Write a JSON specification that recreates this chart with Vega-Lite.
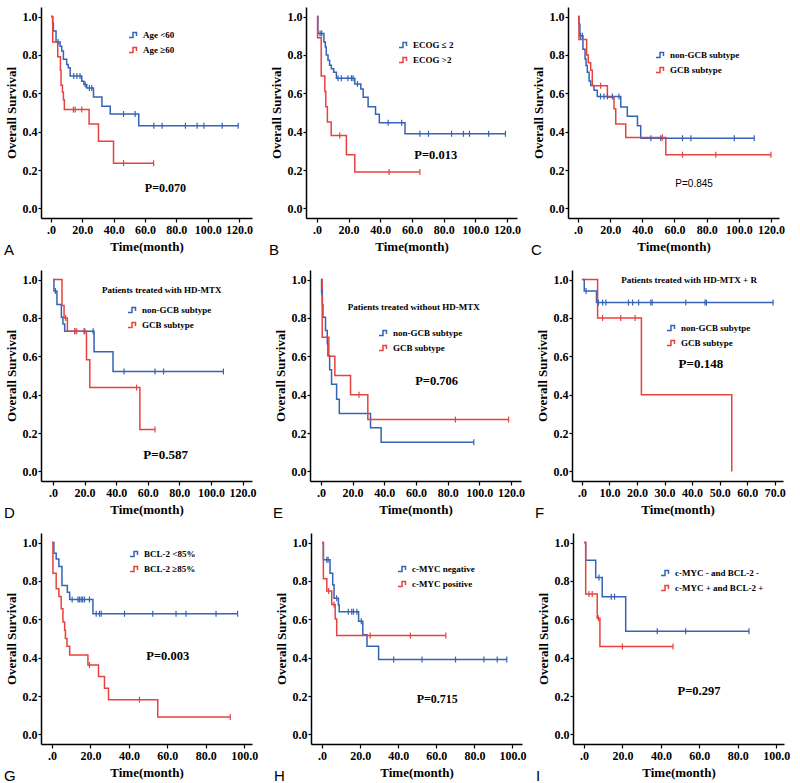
{
"$schema": "https://vega.github.io/schema/vega-lite/v6.json",
"background": "white",
"padding": {"left": 4, "top": 7, "right": 0, "bottom": 0},
"config": {
 "view": {"stroke": null},
 "axis": {"grid": false, "domainColor": "#000", "domainWidth": 1.5, "tickColor": "#000", "tickWidth": 1.2, "labelFont": "Liberation Serif", "labelFontWeight": "bold", "labelFontSize": 12, "labelColor": "#000", "titleFont": "Liberation Serif", "titleFontWeight": "bold", "titleFontSize": 13, "titleColor": "#000", "labelOverlap": false, "labelFlush": false},
 "axisX": {"tickSize": 4, "labelPadding": 2, "titlePadding": 5},
 "axisY": {"tickSize": 3, "labelPadding": 1, "titlePadding": 4},
 "legend": {"orient": "none", "title": null, "symbolType": "M-1,0.5H-0.2V-0.5H0.5V0.2", "symbolSize": 100, "symbolStrokeWidth": 1.5, "labelFont": "Liberation Serif", "labelFontWeight": "bold", "labelFontSize": 9, "labelColor": "#000", "rowPadding": 3, "labelOffset": 3, "labelLimit": 300},
 "text": {"color": "#000"}
},
"datasets": {
 "A": [
  {"g":"Age <60","k":"s","t":0,"s":1},{"g":"Age <60","k":"s","t":1,"s":0.965},{"g":"Age <60","k":"s","t":1.5,"s":0.925},{"g":"Age <60","k":"s","t":3.2,"s":0.867},{"g":"Age <60","k":"s","t":5.8,"s":0.846},{"g":"Age <60","k":"s","t":6.8,"s":0.82},{"g":"Age <60","k":"s","t":7.9,"s":0.777},{"g":"Age <60","k":"s","t":10,"s":0.75},{"g":"Age <60","k":"s","t":11,"s":0.733},{"g":"Age <60","k":"s","t":12.2,"s":0.69},{"g":"Age <60","k":"s","t":19.6,"s":0.663},{"g":"Age <60","k":"s","t":21,"s":0.646},{"g":"Age <60","k":"s","t":22.8,"s":0.628},{"g":"Age <60","k":"s","t":27.1,"s":0.581},{"g":"Age <60","k":"s","t":32.5,"s":0.532},{"g":"Age <60","k":"s","t":37.8,"s":0.492},{"g":"Age <60","k":"s","t":56,"s":0.431},{"g":"Age <60","k":"s","t":119.5,"s":0.431},
  {"g":"Age <60","k":"c","t":4.5,"s":0.867},{"g":"Age <60","k":"c","t":14.5,"s":0.69},{"g":"Age <60","k":"c","t":16.5,"s":0.69},{"g":"Age <60","k":"c","t":18.5,"s":0.69},{"g":"Age <60","k":"c","t":21.8,"s":0.646},{"g":"Age <60","k":"c","t":24.5,"s":0.628},{"g":"Age <60","k":"c","t":26,"s":0.628},{"g":"Age <60","k":"c","t":46.3,"s":0.492},{"g":"Age <60","k":"c","t":53.7,"s":0.492},{"g":"Age <60","k":"c","t":65.6,"s":0.431},{"g":"Age <60","k":"c","t":70.9,"s":0.431},{"g":"Age <60","k":"c","t":85.8,"s":0.431},{"g":"Age <60","k":"c","t":93.3,"s":0.431},{"g":"Age <60","k":"c","t":97.6,"s":0.431},{"g":"Age <60","k":"c","t":109.3,"s":0.431},{"g":"Age <60","k":"c","t":119.5,"s":0.431},
  {"g":"Age ≥60","k":"s","t":0,"s":1},{"g":"Age ≥60","k":"s","t":1.1,"s":0.867},{"g":"Age ≥60","k":"s","t":4.3,"s":0.79},{"g":"Age ≥60","k":"s","t":6,"s":0.72},{"g":"Age ≥60","k":"s","t":6.4,"s":0.642},{"g":"Age ≥60","k":"s","t":7.3,"s":0.605},{"g":"Age ≥60","k":"s","t":7.9,"s":0.567},{"g":"Age ≥60","k":"s","t":8.5,"s":0.515},{"g":"Age ≥60","k":"s","t":24.3,"s":0.44},{"g":"Age ≥60","k":"s","t":30.3,"s":0.35},{"g":"Age ≥60","k":"s","t":39.9,"s":0.236},{"g":"Age ≥60","k":"s","t":65.5,"s":0.236},
  {"g":"Age ≥60","k":"c","t":14.3,"s":0.515},{"g":"Age ≥60","k":"c","t":15.4,"s":0.515},{"g":"Age ≥60","k":"c","t":19.6,"s":0.515},{"g":"Age ≥60","k":"c","t":46.3,"s":0.236},{"g":"Age ≥60","k":"c","t":65.5,"s":0.236}
 ],
 "B": [
  {"g":"ECOG ≤ 2","k":"s","t":0,"s":1},{"g":"ECOG ≤ 2","k":"s","t":0.6,"s":0.912},{"g":"ECOG ≤ 2","k":"s","t":4.4,"s":0.868},{"g":"ECOG ≤ 2","k":"s","t":5.3,"s":0.842},{"g":"ECOG ≤ 2","k":"s","t":5.9,"s":0.8},{"g":"ECOG ≤ 2","k":"s","t":7,"s":0.772},{"g":"ECOG ≤ 2","k":"s","t":8,"s":0.746},{"g":"ECOG ≤ 2","k":"s","t":9.1,"s":0.728},{"g":"ECOG ≤ 2","k":"s","t":10.6,"s":0.71},{"g":"ECOG ≤ 2","k":"s","t":12.3,"s":0.679},{"g":"ECOG ≤ 2","k":"s","t":23.9,"s":0.649},{"g":"ECOG ≤ 2","k":"s","t":27.7,"s":0.623},{"g":"ECOG ≤ 2","k":"s","t":29.2,"s":0.579},{"g":"ECOG ≤ 2","k":"s","t":32.3,"s":0.53},{"g":"ECOG ≤ 2","k":"s","t":37,"s":0.491},{"g":"ECOG ≤ 2","k":"s","t":39.4,"s":0.447},{"g":"ECOG ≤ 2","k":"s","t":55.6,"s":0.389},{"g":"ECOG ≤ 2","k":"s","t":119,"s":0.389},
  {"g":"ECOG ≤ 2","k":"c","t":2,"s":0.912},{"g":"ECOG ≤ 2","k":"c","t":3,"s":0.912},{"g":"ECOG ≤ 2","k":"c","t":13.3,"s":0.679},{"g":"ECOG ≤ 2","k":"c","t":15.4,"s":0.679},{"g":"ECOG ≤ 2","k":"c","t":19.6,"s":0.679},{"g":"ECOG ≤ 2","k":"c","t":21.8,"s":0.679},{"g":"ECOG ≤ 2","k":"c","t":22.8,"s":0.679},{"g":"ECOG ≤ 2","k":"c","t":25.6,"s":0.649},{"g":"ECOG ≤ 2","k":"c","t":45,"s":0.447},{"g":"ECOG ≤ 2","k":"c","t":53.5,"s":0.447},{"g":"ECOG ≤ 2","k":"c","t":65,"s":0.389},{"g":"ECOG ≤ 2","k":"c","t":70.4,"s":0.389},{"g":"ECOG ≤ 2","k":"c","t":85,"s":0.389},{"g":"ECOG ≤ 2","k":"c","t":92.5,"s":0.389},{"g":"ECOG ≤ 2","k":"c","t":96.3,"s":0.389},{"g":"ECOG ≤ 2","k":"c","t":108.4,"s":0.389},{"g":"ECOG ≤ 2","k":"c","t":119,"s":0.389},
  {"g":"ECOG >2","k":"s","t":0,"s":1},{"g":"ECOG >2","k":"s","t":0.4,"s":0.89},{"g":"ECOG >2","k":"s","t":2.7,"s":0.69},{"g":"ECOG >2","k":"s","t":5,"s":0.61},{"g":"ECOG >2","k":"s","t":5.6,"s":0.53},{"g":"ECOG >2","k":"s","t":6.6,"s":0.45},{"g":"ECOG >2","k":"s","t":9,"s":0.38},{"g":"ECOG >2","k":"s","t":18.6,"s":0.28},{"g":"ECOG >2","k":"s","t":23.9,"s":0.19},{"g":"ECOG >2","k":"s","t":65,"s":0.19},
  {"g":"ECOG >2","k":"c","t":14.4,"s":0.38},{"g":"ECOG >2","k":"c","t":45.6,"s":0.19},{"g":"ECOG >2","k":"c","t":65,"s":0.19}
 ],
 "C": [
  {"g":"non-GCB subtype","k":"s","t":0,"s":1},{"g":"non-GCB subtype","k":"s","t":0.6,"s":0.96},{"g":"non-GCB subtype","k":"s","t":1.2,"s":0.9},{"g":"non-GCB subtype","k":"s","t":3.1,"s":0.83},{"g":"non-GCB subtype","k":"s","t":4.4,"s":0.779},{"g":"non-GCB subtype","k":"s","t":5,"s":0.745},{"g":"non-GCB subtype","k":"s","t":5.8,"s":0.71},{"g":"non-GCB subtype","k":"s","t":6.9,"s":0.664},{"g":"non-GCB subtype","k":"s","t":7.9,"s":0.641},{"g":"non-GCB subtype","k":"s","t":10,"s":0.616},{"g":"non-GCB subtype","k":"s","t":12,"s":0.584},{"g":"non-GCB subtype","k":"s","t":26.6,"s":0.529},{"g":"non-GCB subtype","k":"s","t":30.7,"s":0.481},{"g":"non-GCB subtype","k":"s","t":37,"s":0.431},{"g":"non-GCB subtype","k":"s","t":39,"s":0.366},{"g":"non-GCB subtype","k":"s","t":109.6,"s":0.366},
  {"g":"non-GCB subtype","k":"c","t":1.6,"s":0.9},{"g":"non-GCB subtype","k":"c","t":2.7,"s":0.9},{"g":"non-GCB subtype","k":"c","t":14,"s":0.584},{"g":"non-GCB subtype","k":"c","t":16.2,"s":0.584},{"g":"non-GCB subtype","k":"c","t":18.3,"s":0.584},{"g":"non-GCB subtype","k":"c","t":21.4,"s":0.584},{"g":"non-GCB subtype","k":"c","t":25.5,"s":0.584},{"g":"non-GCB subtype","k":"c","t":45.3,"s":0.366},{"g":"non-GCB subtype","k":"c","t":51.5,"s":0.366},{"g":"non-GCB subtype","k":"c","t":65,"s":0.366},{"g":"non-GCB subtype","k":"c","t":70.2,"s":0.366},{"g":"non-GCB subtype","k":"c","t":97.2,"s":0.366},{"g":"non-GCB subtype","k":"c","t":109.6,"s":0.366},
  {"g":"GCB subtype","k":"s","t":0,"s":1},{"g":"GCB subtype","k":"s","t":0.6,"s":0.88},{"g":"GCB subtype","k":"s","t":5.4,"s":0.8},{"g":"GCB subtype","k":"s","t":6.4,"s":0.76},{"g":"GCB subtype","k":"s","t":7.9,"s":0.72},{"g":"GCB subtype","k":"s","t":8.9,"s":0.64},{"g":"GCB subtype","k":"s","t":18.3,"s":0.58},{"g":"GCB subtype","k":"s","t":22.4,"s":0.52},{"g":"GCB subtype","k":"s","t":23.5,"s":0.44},{"g":"GCB subtype","k":"s","t":29.7,"s":0.37},{"g":"GCB subtype","k":"s","t":54.6,"s":0.28},{"g":"GCB subtype","k":"s","t":120,"s":0.28},
  {"g":"GCB subtype","k":"c","t":14.1,"s":0.64},{"g":"GCB subtype","k":"c","t":52.5,"s":0.37},{"g":"GCB subtype","k":"c","t":65,"s":0.28},{"g":"GCB subtype","k":"c","t":85.7,"s":0.28},{"g":"GCB subtype","k":"c","t":120,"s":0.28}
 ],
 "D": [
  {"g":"non-GCB subtype","k":"s","t":0,"s":1},{"g":"non-GCB subtype","k":"s","t":0.6,"s":0.94},{"g":"non-GCB subtype","k":"s","t":2.5,"s":0.87},{"g":"non-GCB subtype","k":"s","t":5.3,"s":0.804},{"g":"non-GCB subtype","k":"s","t":6.3,"s":0.769},{"g":"non-GCB subtype","k":"s","t":7.4,"s":0.731},{"g":"non-GCB subtype","k":"s","t":26,"s":0.624},{"g":"non-GCB subtype","k":"s","t":38,"s":0.521},{"g":"non-GCB subtype","k":"s","t":107.9,"s":0.521},
  {"g":"non-GCB subtype","k":"c","t":1.5,"s":0.94},{"g":"non-GCB subtype","k":"c","t":13.8,"s":0.731},{"g":"non-GCB subtype","k":"c","t":20.1,"s":0.731},{"g":"non-GCB subtype","k":"c","t":25.4,"s":0.731},{"g":"non-GCB subtype","k":"c","t":45,"s":0.521},{"g":"non-GCB subtype","k":"c","t":64.6,"s":0.521},{"g":"non-GCB subtype","k":"c","t":70,"s":0.521},{"g":"non-GCB subtype","k":"c","t":107.9,"s":0.521},
  {"g":"GCB subtype","k":"s","t":0,"s":1},{"g":"GCB subtype","k":"s","t":5.7,"s":0.865},{"g":"GCB subtype","k":"s","t":7,"s":0.8},{"g":"GCB subtype","k":"s","t":9.1,"s":0.731},{"g":"GCB subtype","k":"s","t":21.2,"s":0.582},{"g":"GCB subtype","k":"s","t":23.3,"s":0.437},{"g":"GCB subtype","k":"s","t":55,"s":0.219},{"g":"GCB subtype","k":"s","t":64.6,"s":0.219},
  {"g":"GCB subtype","k":"c","t":8,"s":0.8},{"g":"GCB subtype","k":"c","t":13.8,"s":0.731},{"g":"GCB subtype","k":"c","t":15,"s":0.731},{"g":"GCB subtype","k":"c","t":19.6,"s":0.731},{"g":"GCB subtype","k":"c","t":52.9,"s":0.437},{"g":"GCB subtype","k":"c","t":64.6,"s":0.219}
 ],
 "E": [
  {"g":"non-GCB subtype","k":"s","t":0,"s":1},{"g":"non-GCB subtype","k":"s","t":0.4,"s":0.935},{"g":"non-GCB subtype","k":"s","t":0.9,"s":0.87},{"g":"non-GCB subtype","k":"s","t":1.3,"s":0.804},{"g":"non-GCB subtype","k":"s","t":2.9,"s":0.734},{"g":"non-GCB subtype","k":"s","t":4,"s":0.665},{"g":"non-GCB subtype","k":"s","t":4.4,"s":0.603},{"g":"non-GCB subtype","k":"s","t":5.5,"s":0.53},{"g":"non-GCB subtype","k":"s","t":6.7,"s":0.455},{"g":"non-GCB subtype","k":"s","t":9.9,"s":0.376},{"g":"non-GCB subtype","k":"s","t":11.6,"s":0.302},{"g":"non-GCB subtype","k":"s","t":31.3,"s":0.227},{"g":"non-GCB subtype","k":"s","t":38,"s":0.152},{"g":"non-GCB subtype","k":"s","t":96.5,"s":0.152},
  {"g":"non-GCB subtype","k":"c","t":0.8,"s":0.935},{"g":"non-GCB subtype","k":"c","t":96.5,"s":0.152},
  {"g":"GCB subtype","k":"s","t":0,"s":1},{"g":"GCB subtype","k":"s","t":0.8,"s":0.7},{"g":"GCB subtype","k":"s","t":5,"s":0.6},{"g":"GCB subtype","k":"s","t":8.8,"s":0.5},{"g":"GCB subtype","k":"s","t":18.7,"s":0.4},{"g":"GCB subtype","k":"s","t":29.6,"s":0.27},{"g":"GCB subtype","k":"s","t":118.5,"s":0.27},
  {"g":"GCB subtype","k":"c","t":24,"s":0.4},{"g":"GCB subtype","k":"c","t":84.9,"s":0.27},{"g":"GCB subtype","k":"c","t":118.5,"s":0.27}
 ],
 "F": [
  {"g":"non-GCB subytpe","k":"s","t":0,"s":1},{"g":"non-GCB subytpe","k":"s","t":0.85,"s":0.94},{"g":"non-GCB subytpe","k":"s","t":5.3,"s":0.88},{"g":"non-GCB subytpe","k":"s","t":69.4,"s":0.88},
  {"g":"non-GCB subytpe","k":"c","t":1.5,"s":0.94},{"g":"non-GCB subytpe","k":"c","t":6,"s":0.88},{"g":"non-GCB subytpe","k":"c","t":7.5,"s":0.88},{"g":"non-GCB subytpe","k":"c","t":8.7,"s":0.88},{"g":"non-GCB subytpe","k":"c","t":16.9,"s":0.88},{"g":"non-GCB subytpe","k":"c","t":18.4,"s":0.88},{"g":"non-GCB subytpe","k":"c","t":20.6,"s":0.88},{"g":"non-GCB subytpe","k":"c","t":25,"s":0.88},{"g":"non-GCB subytpe","k":"c","t":25.5,"s":0.88},{"g":"non-GCB subytpe","k":"c","t":37.7,"s":0.88},{"g":"non-GCB subytpe","k":"c","t":44.7,"s":0.88},{"g":"non-GCB subytpe","k":"c","t":45.2,"s":0.88},{"g":"non-GCB subytpe","k":"c","t":69.4,"s":0.88},
  {"g":"GCB subtype","k":"s","t":0,"s":1},{"g":"GCB subtype","k":"s","t":5.7,"s":0.8},{"g":"GCB subtype","k":"s","t":21.6,"s":0.4},{"g":"GCB subtype","k":"s","t":54.4,"s":0},
  {"g":"GCB subtype","k":"c","t":7.5,"s":0.8},{"g":"GCB subtype","k":"c","t":14.1,"s":0.8},{"g":"GCB subtype","k":"c","t":19.3,"s":0.8}
 ],
 "G": [
  {"g":"BCL-2 <85%","k":"s","t":0,"s":1},{"g":"BCL-2 <85%","k":"s","t":1,"s":0.945},{"g":"BCL-2 <85%","k":"s","t":2.2,"s":0.914},{"g":"BCL-2 <85%","k":"s","t":3.6,"s":0.876},{"g":"BCL-2 <85%","k":"s","t":5.2,"s":0.776},{"g":"BCL-2 <85%","k":"s","t":8,"s":0.741},{"g":"BCL-2 <85%","k":"s","t":9.2,"s":0.703},{"g":"BCL-2 <85%","k":"s","t":21.3,"s":0.629},{"g":"BCL-2 <85%","k":"s","t":96.5,"s":0.629},
  {"g":"BCL-2 <85%","k":"c","t":10.5,"s":0.703},{"g":"BCL-2 <85%","k":"c","t":13.5,"s":0.703},{"g":"BCL-2 <85%","k":"c","t":14.3,"s":0.703},{"g":"BCL-2 <85%","k":"c","t":15.2,"s":0.703},{"g":"BCL-2 <85%","k":"c","t":16,"s":0.703},{"g":"BCL-2 <85%","k":"c","t":16.9,"s":0.703},{"g":"BCL-2 <85%","k":"c","t":19.5,"s":0.703},{"g":"BCL-2 <85%","k":"c","t":23,"s":0.629},{"g":"BCL-2 <85%","k":"c","t":24.7,"s":0.629},{"g":"BCL-2 <85%","k":"c","t":25.6,"s":0.629},{"g":"BCL-2 <85%","k":"c","t":37.7,"s":0.629},{"g":"BCL-2 <85%","k":"c","t":52.4,"s":0.629},{"g":"BCL-2 <85%","k":"c","t":64.5,"s":0.629},{"g":"BCL-2 <85%","k":"c","t":69.7,"s":0.629},{"g":"BCL-2 <85%","k":"c","t":85.3,"s":0.629},{"g":"BCL-2 <85%","k":"c","t":96.5,"s":0.629},
  {"g":"BCL-2 ≥85%","k":"s","t":0,"s":1},{"g":"BCL-2 ≥85%","k":"s","t":0.5,"s":0.84},{"g":"BCL-2 ≥85%","k":"s","t":2.2,"s":0.759},{"g":"BCL-2 ≥85%","k":"s","t":3.6,"s":0.719},{"g":"BCL-2 ≥85%","k":"s","t":4.8,"s":0.655},{"g":"BCL-2 ≥85%","k":"s","t":5.7,"s":0.586},{"g":"BCL-2 ≥85%","k":"s","t":6.6,"s":0.543},{"g":"BCL-2 ≥85%","k":"s","t":7,"s":0.5},{"g":"BCL-2 ≥85%","k":"s","t":7.8,"s":0.46},{"g":"BCL-2 ≥85%","k":"s","t":9.2,"s":0.414},{"g":"BCL-2 ≥85%","k":"s","t":18.7,"s":0.362},{"g":"BCL-2 ≥85%","k":"s","t":24.2,"s":0.302},{"g":"BCL-2 ≥85%","k":"s","t":27.3,"s":0.241},{"g":"BCL-2 ≥85%","k":"s","t":29.4,"s":0.181},{"g":"BCL-2 ≥85%","k":"s","t":55,"s":0.091},{"g":"BCL-2 ≥85%","k":"s","t":92.7,"s":0.091},
  {"g":"BCL-2 ≥85%","k":"c","t":19.5,"s":0.362},{"g":"BCL-2 ≥85%","k":"c","t":45.5,"s":0.181},{"g":"BCL-2 ≥85%","k":"c","t":92.7,"s":0.091}
 ],
 "H": [
  {"g":"c-MYC negative","k":"s","t":0,"s":1},{"g":"c-MYC negative","k":"s","t":0.7,"s":0.91},{"g":"c-MYC negative","k":"s","t":4.2,"s":0.84},{"g":"c-MYC negative","k":"s","t":5.6,"s":0.78},{"g":"c-MYC negative","k":"s","t":6.3,"s":0.71},{"g":"c-MYC negative","k":"s","t":8.6,"s":0.675},{"g":"c-MYC negative","k":"s","t":9,"s":0.64},{"g":"c-MYC negative","k":"s","t":19.2,"s":0.59},{"g":"c-MYC negative","k":"s","t":21.4,"s":0.52},{"g":"c-MYC negative","k":"s","t":23.6,"s":0.46},{"g":"c-MYC negative","k":"s","t":29.7,"s":0.39},{"g":"c-MYC negative","k":"s","t":97,"s":0.39},
  {"g":"c-MYC negative","k":"c","t":2.5,"s":0.91},{"g":"c-MYC negative","k":"c","t":3.2,"s":0.91},{"g":"c-MYC negative","k":"c","t":7.7,"s":0.71},{"g":"c-MYC negative","k":"c","t":13.8,"s":0.64},{"g":"c-MYC negative","k":"c","t":15.6,"s":0.64},{"g":"c-MYC negative","k":"c","t":16.5,"s":0.64},{"g":"c-MYC negative","k":"c","t":18.3,"s":0.64},{"g":"c-MYC negative","k":"c","t":20.6,"s":0.59},{"g":"c-MYC negative","k":"c","t":37.6,"s":0.39},{"g":"c-MYC negative","k":"c","t":52.5,"s":0.39},{"g":"c-MYC negative","k":"c","t":70.1,"s":0.39},{"g":"c-MYC negative","k":"c","t":85,"s":0.39},{"g":"c-MYC negative","k":"c","t":92,"s":0.39},{"g":"c-MYC negative","k":"c","t":97,"s":0.39},
  {"g":"c-MYC positive","k":"s","t":0,"s":1},{"g":"c-MYC positive","k":"s","t":0.7,"s":0.812},{"g":"c-MYC positive","k":"s","t":2.5,"s":0.747},{"g":"c-MYC positive","k":"s","t":5.1,"s":0.677},{"g":"c-MYC positive","k":"s","t":6.9,"s":0.602},{"g":"c-MYC positive","k":"s","t":7.7,"s":0.515},{"g":"c-MYC positive","k":"s","t":65,"s":0.515},
  {"g":"c-MYC positive","k":"c","t":3.5,"s":0.747},{"g":"c-MYC positive","k":"c","t":6.3,"s":0.677},{"g":"c-MYC positive","k":"c","t":25.3,"s":0.515},{"g":"c-MYC positive","k":"c","t":46.4,"s":0.515},{"g":"c-MYC positive","k":"c","t":65,"s":0.515}
 ],
 "I": [
  {"g":"c-MYC - and BCL-2 -","k":"s","t":0,"s":1},{"g":"c-MYC - and BCL-2 -","k":"s","t":0.9,"s":0.908},{"g":"c-MYC - and BCL-2 -","k":"s","t":6.1,"s":0.818},{"g":"c-MYC - and BCL-2 -","k":"s","t":9.5,"s":0.718},{"g":"c-MYC - and BCL-2 -","k":"s","t":21.7,"s":0.538},{"g":"c-MYC - and BCL-2 -","k":"s","t":85.8,"s":0.538},
  {"g":"c-MYC - and BCL-2 -","k":"c","t":7.8,"s":0.818},{"g":"c-MYC - and BCL-2 -","k":"c","t":14.2,"s":0.718},{"g":"c-MYC - and BCL-2 -","k":"c","t":15.9,"s":0.718},{"g":"c-MYC - and BCL-2 -","k":"c","t":38.1,"s":0.538},{"g":"c-MYC - and BCL-2 -","k":"c","t":52.9,"s":0.538},{"g":"c-MYC - and BCL-2 -","k":"c","t":85.8,"s":0.538},
  {"g":"c-MYC + and BCL-2 +","k":"s","t":0,"s":1},{"g":"c-MYC + and BCL-2 +","k":"s","t":0.9,"s":0.732},{"g":"c-MYC + and BCL-2 +","k":"s","t":6.9,"s":0.606},{"g":"c-MYC + and BCL-2 +","k":"s","t":8.3,"s":0.458},{"g":"c-MYC + and BCL-2 +","k":"s","t":46.3,"s":0.458},
  {"g":"c-MYC + and BCL-2 +","k":"c","t":2.6,"s":0.732},{"g":"c-MYC + and BCL-2 +","k":"c","t":4.3,"s":0.732},{"g":"c-MYC + and BCL-2 +","k":"c","t":7.5,"s":0.606},{"g":"c-MYC + and BCL-2 +","k":"c","t":20,"s":0.458},{"g":"c-MYC + and BCL-2 +","k":"c","t":46.3,"s":0.458}
 ]
},
"spacing": 12,
"resolve": {"scale": {"color": "independent"}, "legend": {"color": "independent"}},
"vconcat": [
 {"spacing": 16, "resolve": {"scale": {"color": "independent"}, "legend": {"color": "independent"}}, "hconcat": [
  {"width": 211, "height": 211, "title": {"text": "A", "orient": "bottom", "anchor": "start", "frame": "group", "dx": -37, "dy": -14, "font": "Liberation Sans", "fontSize": 15, "fontWeight": "normal", "color": "#000"},
   "data": {"name": "A"},
   "layer": [
    {"transform": [{"filter": "datum.k == 's'"}], "mark": {"type": "line", "interpolate": "step-after", "strokeWidth": 1.5},
     "encoding": {"x": {"field": "t", "type": "quantitative", "scale": {"domain": [-6.4, 128.3], "nice": false, "zero": false}, "axis": {"title": "Time(month)", "labelOverlap": false, "values": [0,20,40,60,80,100,120], "labelExpr": "datum.value == 0 ? '.0' : format(datum.value, '.1f')"}},
                  "y": {"field": "s", "type": "quantitative", "scale": {"domain": [-0.05, 1.05], "nice": false, "zero": false}, "axis": {"title": "Overall Survival", "labelOverlap": false, "values": [0,0.2,0.4,0.6,0.8,1], "format": ".1f"}},
                  "color": {"field": "g", "type": "nominal", "scale": {"domain": ["Age <60", "Age ≥60"], "range": ["#3563b5", "#e8423f"]}, "legend": {"legendX": 87, "legendY": 22, "symbolType": "M-1,0.5H-0.2V-0.5H0.5V0.2", "encode": {"symbols": {"update": {"fill": {"value": "transparent"}}}}}}}},
    {"transform": [{"filter": "datum.k == 'c'"}], "mark": {"type": "point", "shape": "M0,-1V1", "filled": false, "size": 36, "strokeWidth": 1.2, "opacity": 1},
     "encoding": {"x": {"field": "t", "type": "quantitative", "axis": {"title": "Time(month)", "labelOverlap": false, "values": [0,20,40,60,80,100,120], "labelExpr": "datum.value == 0 ? '.0' : format(datum.value, '.1f')"}}, "y": {"field": "s", "type": "quantitative", "axis": {"title": "Overall Survival", "labelOverlap": false, "values": [0,0.2,0.4,0.6,0.8,1], "format": ".1f"}}, "color": {"field": "g", "type": "nominal", "legend": null}}},
    {"data": {"values": [{"label": "P=0.070"}]}, "mark": {"type": "text", "font": "Liberation Serif", "fontWeight": "bold", "fontSize": 12},
     "encoding": {"x": {"datum": 73, "axis": {"title": "Time(month)", "labelOverlap": false, "values": [0,20,40,60,80,100,120], "labelExpr": "datum.value == 0 ? '.0' : format(datum.value, '.1f')"}}, "y": {"datum": 0.105, "axis": {"title": "Overall Survival", "labelOverlap": false, "values": [0,0.2,0.4,0.6,0.8,1], "format": ".1f"}}, "text": {"field": "label"}}}
   ]},
  {"spacing": 10, "resolve": {"scale": {"color": "independent"}, "legend": {"color": "independent"}}, "hconcat": [
   {"width": 211, "height": 211, "title": {"text": "B", "orient": "bottom", "anchor": "start", "frame": "group", "dx": -37, "dy": -14, "font": "Liberation Sans", "fontSize": 15, "fontWeight": "normal", "color": "#000"},
    "data": {"name": "B"},
    "layer": [
     {"transform": [{"filter": "datum.k == 's'"}], "mark": {"type": "line", "interpolate": "step-after", "strokeWidth": 1.5},
      "encoding": {"x": {"field": "t", "type": "quantitative", "scale": {"domain": [-6.9, 126.3], "nice": false, "zero": false}, "axis": {"title": "Time(month)", "labelOverlap": false, "values": [0,20,40,60,80,100,120], "labelExpr": "datum.value == 0 ? '.0' : format(datum.value, '.1f')"}},
                   "y": {"field": "s", "type": "quantitative", "scale": {"domain": [-0.05, 1.05], "nice": false, "zero": false}, "axis": {"title": "Overall Survival", "labelOverlap": false, "values": [0,0.2,0.4,0.6,0.8,1], "format": ".1f"}},
                   "color": {"field": "g", "type": "nominal", "scale": {"domain": ["ECOG ≤ 2", "ECOG >2"], "range": ["#3563b5", "#e8423f"]}, "legend": {"legendX": 92, "legendY": 32, "symbolType": "M-1,0.5H-0.2V-0.5H0.5V0.2", "encode": {"symbols": {"update": {"fill": {"value": "transparent"}}}}}}}},
     {"transform": [{"filter": "datum.k == 'c'"}], "mark": {"type": "point", "shape": "M0,-1V1", "filled": false, "size": 36, "strokeWidth": 1.2, "opacity": 1},
      "encoding": {"x": {"field": "t", "type": "quantitative", "axis": {"title": "Time(month)", "labelOverlap": false, "values": [0,20,40,60,80,100,120], "labelExpr": "datum.value == 0 ? '.0' : format(datum.value, '.1f')"}}, "y": {"field": "s", "type": "quantitative", "axis": {"title": "Overall Survival", "labelOverlap": false, "values": [0,0.2,0.4,0.6,0.8,1], "format": ".1f"}}, "color": {"field": "g", "type": "nominal", "legend": null}}},
     {"data": {"values": [{"label": "P=0.013"}]}, "mark": {"type": "text", "font": "Liberation Serif", "fontWeight": "bold", "fontSize": 12.5},
      "encoding": {"x": {"datum": 75, "axis": {"title": "Time(month)", "labelOverlap": false, "values": [0,20,40,60,80,100,120], "labelExpr": "datum.value == 0 ? '.0' : format(datum.value, '.1f')"}}, "y": {"datum": 0.28, "axis": {"title": "Overall Survival", "labelOverlap": false, "values": [0,0.2,0.4,0.6,0.8,1], "format": ".1f"}}, "text": {"field": "label"}}}
    ]},
   {"width": 211, "height": 211, "title": {"text": "C", "orient": "bottom", "anchor": "start", "frame": "group", "dx": -37, "dy": -14, "font": "Liberation Sans", "fontSize": 15, "fontWeight": "normal", "color": "#000"},
    "data": {"name": "C"},
    "layer": [
     {"transform": [{"filter": "datum.k == 's'"}], "mark": {"type": "line", "interpolate": "step-after", "strokeWidth": 1.5},
      "encoding": {"x": {"field": "t", "type": "quantitative", "scale": {"domain": [-6.2, 125], "nice": false, "zero": false}, "axis": {"title": "Time(month)", "labelOverlap": false, "values": [0,20,40,60,80,100,120], "labelExpr": "datum.value == 0 ? '.0' : format(datum.value, '.1f')"}},
                   "y": {"field": "s", "type": "quantitative", "scale": {"domain": [-0.05, 1.05], "nice": false, "zero": false}, "axis": {"title": "Overall Survival", "labelOverlap": false, "values": [0,0.2,0.4,0.6,0.8,1], "format": ".1f"}},
                   "color": {"field": "g", "type": "nominal", "scale": {"domain": ["non-GCB subtype", "GCB subtype"], "range": ["#3563b5", "#e8423f"]}, "legend": {"legendX": 87, "legendY": 42, "symbolType": "M-1,0.5H-0.2V-0.5H0.5V0.2", "encode": {"symbols": {"update": {"fill": {"value": "transparent"}}}}}}}},
     {"transform": [{"filter": "datum.k == 'c'"}], "mark": {"type": "point", "shape": "M0,-1V1", "filled": false, "size": 36, "strokeWidth": 1.2, "opacity": 1},
      "encoding": {"x": {"field": "t", "type": "quantitative", "axis": {"title": "Time(month)", "labelOverlap": false, "values": [0,20,40,60,80,100,120], "labelExpr": "datum.value == 0 ? '.0' : format(datum.value, '.1f')"}}, "y": {"field": "s", "type": "quantitative", "axis": {"title": "Overall Survival", "labelOverlap": false, "values": [0,0.2,0.4,0.6,0.8,1], "format": ".1f"}}, "color": {"field": "g", "type": "nominal", "legend": null}}},
     {"data": {"values": [{"label": "P=0.845"}]}, "mark": {"type": "text", "font": "Liberation Sans", "fontSize": 10},
      "encoding": {"x": {"datum": 72.2, "axis": {"title": "Time(month)", "labelOverlap": false, "values": [0,20,40,60,80,100,120], "labelExpr": "datum.value == 0 ? '.0' : format(datum.value, '.1f')"}}, "y": {"datum": 0.128, "axis": {"title": "Overall Survival", "labelOverlap": false, "values": [0,0.2,0.4,0.6,0.8,1], "format": ".1f"}}, "text": {"field": "label"}}}
    ]}
  ]}
 ]},
 {"spacing": 16, "resolve": {"scale": {"color": "independent"}, "legend": {"color": "independent"}}, "hconcat": [
  {"width": 211, "height": 211, "title": {"text": "D", "orient": "bottom", "anchor": "start", "frame": "group", "dx": -37, "dy": -14, "font": "Liberation Sans", "fontSize": 15, "fontWeight": "normal", "color": "#000"},
   "data": {"name": "D"},
   "layer": [
    {"transform": [{"filter": "datum.k == 's'"}], "mark": {"type": "line", "interpolate": "step-after", "strokeWidth": 1.5},
     "encoding": {"x": {"field": "t", "type": "quantitative", "scale": {"domain": [-7.6, 126], "nice": false, "zero": false}, "axis": {"title": "Time(month)", "labelOverlap": false, "values": [0,20,40,60,80,100,120], "labelExpr": "datum.value == 0 ? '.0' : format(datum.value, '.1f')"}},
                  "y": {"field": "s", "type": "quantitative", "scale": {"domain": [-0.05, 1.05], "nice": false, "zero": false}, "axis": {"title": "Overall Survival", "labelOverlap": false, "values": [0,0.2,0.4,0.6,0.8,1], "format": ".1f"}},
                  "color": {"field": "g", "type": "nominal", "scale": {"domain": ["non-GCB subtype", "GCB subtype"], "range": ["#3563b5", "#e8423f"]}, "legend": {"legendX": 86, "legendY": 34, "symbolType": "M-1,0.5H-0.2V-0.5H0.5V0.2", "encode": {"symbols": {"update": {"fill": {"value": "transparent"}}}}}}}},
    {"transform": [{"filter": "datum.k == 'c'"}], "mark": {"type": "point", "shape": "M0,-1V1", "filled": false, "size": 36, "strokeWidth": 1.2, "opacity": 1},
     "encoding": {"x": {"field": "t", "type": "quantitative", "axis": {"title": "Time(month)", "labelOverlap": false, "values": [0,20,40,60,80,100,120], "labelExpr": "datum.value == 0 ? '.0' : format(datum.value, '.1f')"}}, "y": {"field": "s", "type": "quantitative", "axis": {"title": "Overall Survival", "labelOverlap": false, "values": [0,0.2,0.4,0.6,0.8,1], "format": ".1f"}}, "color": {"field": "g", "type": "nominal", "legend": null}}},
    {"data": {"values": [{"label": "P=0.587"}]}, "mark": {"type": "text", "font": "Liberation Serif", "fontWeight": "bold", "fontSize": 13},
     "encoding": {"x": {"datum": 71.3, "axis": {"title": "Time(month)", "labelOverlap": false, "values": [0,20,40,60,80,100,120], "labelExpr": "datum.value == 0 ? '.0' : format(datum.value, '.1f')"}}, "y": {"datum": 0.087, "axis": {"title": "Overall Survival", "labelOverlap": false, "values": [0,0.2,0.4,0.6,0.8,1], "format": ".1f"}}, "text": {"field": "label"}}},
    {"data": {"values": [{"label": "Patients treated with HD-MTX"}]}, "mark": {"type": "text", "font": "Liberation Serif", "fontWeight": "bold", "fontSize": 9},
     "encoding": {"x": {"datum": 68.8, "axis": {"title": "Time(month)", "labelOverlap": false, "values": [0,20,40,60,80,100,120], "labelExpr": "datum.value == 0 ? '.0' : format(datum.value, '.1f')"}}, "y": {"datum": 0.944, "axis": {"title": "Overall Survival", "labelOverlap": false, "values": [0,0.2,0.4,0.6,0.8,1], "format": ".1f"}}, "text": {"field": "label"}}}
   ]},
  {"spacing": 10, "resolve": {"scale": {"color": "independent"}, "legend": {"color": "independent"}}, "hconcat": [
   {"width": 211, "height": 211, "title": {"text": "E", "orient": "bottom", "anchor": "start", "frame": "group", "dx": -37, "dy": -14, "font": "Liberation Sans", "fontSize": 15, "fontWeight": "normal", "color": "#000"},
    "data": {"name": "E"},
    "layer": [
     {"transform": [{"filter": "datum.k == 's'"}], "mark": {"type": "line", "interpolate": "step-after", "strokeWidth": 1.5},
      "encoding": {"x": {"field": "t", "type": "quantitative", "scale": {"domain": [-6.9, 126.3], "nice": false, "zero": false}, "axis": {"title": "Time(month)", "labelOverlap": false, "values": [0,20,40,60,80,100,120], "labelExpr": "datum.value == 0 ? '.0' : format(datum.value, '.1f')"}},
                   "y": {"field": "s", "type": "quantitative", "scale": {"domain": [-0.05, 1.05], "nice": false, "zero": false}, "axis": {"title": "Overall Survival", "labelOverlap": false, "values": [0,0.2,0.4,0.6,0.8,1], "format": ".1f"}},
                   "color": {"field": "g", "type": "nominal", "scale": {"domain": ["non-GCB subtype", "GCB subtype"], "range": ["#3563b5", "#e8423f"]}, "legend": {"legendX": 68, "legendY": 57, "symbolType": "M-1,0.5H-0.2V-0.5H0.5V0.2", "encode": {"symbols": {"update": {"fill": {"value": "transparent"}}}}}}}},
     {"transform": [{"filter": "datum.k == 'c'"}], "mark": {"type": "point", "shape": "M0,-1V1", "filled": false, "size": 36, "strokeWidth": 1.2, "opacity": 1},
      "encoding": {"x": {"field": "t", "type": "quantitative", "axis": {"title": "Time(month)", "labelOverlap": false, "values": [0,20,40,60,80,100,120], "labelExpr": "datum.value == 0 ? '.0' : format(datum.value, '.1f')"}}, "y": {"field": "s", "type": "quantitative", "axis": {"title": "Overall Survival", "labelOverlap": false, "values": [0,0.2,0.4,0.6,0.8,1], "format": ".1f"}}, "color": {"field": "g", "type": "nominal", "legend": null}}},
     {"data": {"values": [{"label": "P=0.706"}]}, "mark": {"type": "text", "font": "Liberation Serif", "fontWeight": "bold", "fontSize": 12.5},
      "encoding": {"x": {"datum": 73, "axis": {"title": "Time(month)", "labelOverlap": false, "values": [0,20,40,60,80,100,120], "labelExpr": "datum.value == 0 ? '.0' : format(datum.value, '.1f')"}}, "y": {"datum": 0.472, "axis": {"title": "Overall Survival", "labelOverlap": false, "values": [0,0.2,0.4,0.6,0.8,1], "format": ".1f"}}, "text": {"field": "label"}}},
     {"data": {"values": [{"label": "Patients treated without HD-MTX"}]}, "mark": {"type": "text", "font": "Liberation Serif", "fontWeight": "bold", "fontSize": 9},
      "encoding": {"x": {"datum": 58.6, "axis": {"title": "Time(month)", "labelOverlap": false, "values": [0,20,40,60,80,100,120], "labelExpr": "datum.value == 0 ? '.0' : format(datum.value, '.1f')"}}, "y": {"datum": 0.857, "axis": {"title": "Overall Survival", "labelOverlap": false, "values": [0,0.2,0.4,0.6,0.8,1], "format": ".1f"}}, "text": {"field": "label"}}}
    ]},
   {"width": 211, "height": 211, "title": {"text": "F", "orient": "bottom", "anchor": "start", "frame": "group", "dx": -37, "dy": -14, "font": "Liberation Sans", "fontSize": 15, "fontWeight": "normal", "color": "#000"},
    "data": {"name": "F"},
    "layer": [
     {"transform": [{"filter": "datum.k == 's'"}], "mark": {"type": "line", "interpolate": "step-after", "strokeWidth": 1.5},
      "encoding": {"x": {"field": "t", "type": "quantitative", "scale": {"domain": [-3.6, 73], "nice": false, "zero": false}, "axis": {"title": "Time(month)", "labelOverlap": false, "values": [0,10,20,30,40,50,60,70], "labelExpr": "datum.value == 0 ? '.0' : format(datum.value, '.1f')"}},
                   "y": {"field": "s", "type": "quantitative", "scale": {"domain": [-0.05, 1.05], "nice": false, "zero": false}, "axis": {"title": "Overall Survival", "labelOverlap": false, "values": [0,0.2,0.4,0.6,0.8,1], "format": ".1f"}},
                   "color": {"field": "g", "type": "nominal", "scale": {"domain": ["non-GCB subytpe", "GCB subtype"], "range": ["#3563b5", "#e8423f"]}, "legend": {"legendX": 94, "legendY": 52, "symbolType": "M-1,0.5H-0.2V-0.5H0.5V0.2", "encode": {"symbols": {"update": {"fill": {"value": "transparent"}}}}}}}},
     {"transform": [{"filter": "datum.k == 'c'"}], "mark": {"type": "point", "shape": "M0,-1V1", "filled": false, "size": 36, "strokeWidth": 1.2, "opacity": 1},
      "encoding": {"x": {"field": "t", "type": "quantitative", "axis": {"title": "Time(month)", "labelOverlap": false, "values": [0,10,20,30,40,50,60,70], "labelExpr": "datum.value == 0 ? '.0' : format(datum.value, '.1f')"}}, "y": {"field": "s", "type": "quantitative", "axis": {"title": "Overall Survival", "labelOverlap": false, "values": [0,0.2,0.4,0.6,0.8,1], "format": ".1f"}}, "color": {"field": "g", "type": "nominal", "legend": null}}},
     {"data": {"values": [{"label": "P=0.148"}]}, "mark": {"type": "text", "font": "Liberation Serif", "fontWeight": "bold", "fontSize": 13},
      "encoding": {"x": {"datum": 43.2, "axis": {"title": "Time(month)", "labelOverlap": false, "values": [0,10,20,30,40,50,60,70], "labelExpr": "datum.value == 0 ? '.0' : format(datum.value, '.1f')"}}, "y": {"datum": 0.56, "axis": {"title": "Overall Survival", "labelOverlap": false, "values": [0,0.2,0.4,0.6,0.8,1], "format": ".1f"}}, "text": {"field": "label"}}},
     {"data": {"values": [{"label": "Patients treated with HD-MTX + R"}]}, "mark": {"type": "text", "font": "Liberation Serif", "fontWeight": "bold", "fontSize": 9},
      "encoding": {"x": {"datum": 38.9, "axis": {"title": "Time(month)", "labelOverlap": false, "values": [0,10,20,30,40,50,60,70], "labelExpr": "datum.value == 0 ? '.0' : format(datum.value, '.1f')"}}, "y": {"datum": 1.0, "axis": {"title": "Overall Survival", "labelOverlap": false, "values": [0,0.2,0.4,0.6,0.8,1], "format": ".1f"}}, "text": {"field": "label"}}}
    ]}
  ]}
 ]},
 {"spacing": 16, "resolve": {"scale": {"color": "independent"}, "legend": {"color": "independent"}}, "hconcat": [
  {"width": 211, "height": 211, "title": {"text": "G", "orient": "bottom", "anchor": "start", "frame": "group", "dx": -37, "dy": -14, "font": "Liberation Sans", "fontSize": 15, "fontWeight": "normal", "color": "#000"},
   "data": {"name": "G"},
   "layer": [
    {"transform": [{"filter": "datum.k == 's'"}], "mark": {"type": "line", "interpolate": "step-after", "strokeWidth": 1.5},
     "encoding": {"x": {"field": "t", "type": "quantitative", "scale": {"domain": [-5.7, 104], "nice": false, "zero": false}, "axis": {"title": "Time(month)", "labelOverlap": false, "values": [0,20,40,60,80,100], "labelExpr": "datum.value == 0 ? '.0' : format(datum.value, '.1f')"}},
                  "y": {"field": "s", "type": "quantitative", "scale": {"domain": [-0.05, 1.05], "nice": false, "zero": false}, "axis": {"title": "Overall Survival", "labelOverlap": false, "values": [0,0.2,0.4,0.6,0.8,1], "format": ".1f"}},
                  "color": {"field": "g", "type": "nominal", "scale": {"domain": ["BCL-2 <85%", "BCL-2 ≥85%"], "range": ["#3563b5", "#e8423f"]}, "legend": {"legendX": 88, "legendY": 15, "symbolType": "M-1,0.5H-0.2V-0.5H0.5V0.2", "encode": {"symbols": {"update": {"fill": {"value": "transparent"}}}}}}}},
    {"transform": [{"filter": "datum.k == 'c'"}], "mark": {"type": "point", "shape": "M0,-1V1", "filled": false, "size": 36, "strokeWidth": 1.2, "opacity": 1},
     "encoding": {"x": {"field": "t", "type": "quantitative", "axis": {"title": "Time(month)", "labelOverlap": false, "values": [0,20,40,60,80,100], "labelExpr": "datum.value == 0 ? '.0' : format(datum.value, '.1f')"}}, "y": {"field": "s", "type": "quantitative", "axis": {"title": "Overall Survival", "labelOverlap": false, "values": [0,0.2,0.4,0.6,0.8,1], "format": ".1f"}}, "color": {"field": "g", "type": "nominal", "legend": null}}},
    {"data": {"values": [{"label": "P=0.003"}]}, "mark": {"type": "text", "font": "Liberation Serif", "fontWeight": "bold", "fontSize": 12.5},
     "encoding": {"x": {"datum": 60.2, "axis": {"title": "Time(month)", "labelOverlap": false, "values": [0,20,40,60,80,100], "labelExpr": "datum.value == 0 ? '.0' : format(datum.value, '.1f')"}}, "y": {"datum": 0.409, "axis": {"title": "Overall Survival", "labelOverlap": false, "values": [0,0.2,0.4,0.6,0.8,1], "format": ".1f"}}, "text": {"field": "label"}}}
   ]},
  {"spacing": 10, "resolve": {"scale": {"color": "independent"}, "legend": {"color": "independent"}}, "hconcat": [
   {"width": 211, "height": 211, "title": {"text": "H", "orient": "bottom", "anchor": "start", "frame": "group", "dx": -37, "dy": -14, "font": "Liberation Sans", "fontSize": 15, "fontWeight": "normal", "color": "#000"},
    "data": {"name": "H"},
    "layer": [
     {"transform": [{"filter": "datum.k == 's'"}], "mark": {"type": "line", "interpolate": "step-after", "strokeWidth": 1.5},
      "encoding": {"x": {"field": "t", "type": "quantitative", "scale": {"domain": [-5.8, 105], "nice": false, "zero": false}, "axis": {"title": "Time(month)", "labelOverlap": false, "values": [0,20,40,60,80,100], "labelExpr": "datum.value == 0 ? '.0' : format(datum.value, '.1f')"}},
                   "y": {"field": "s", "type": "quantitative", "scale": {"domain": [-0.05, 1.05], "nice": false, "zero": false}, "axis": {"title": "Overall Survival", "labelOverlap": false, "values": [0,0.2,0.4,0.6,0.8,1], "format": ".1f"}},
                   "color": {"field": "g", "type": "nominal", "scale": {"domain": ["c-MYC negative", "c-MYC positive"], "range": ["#3563b5", "#e8423f"]}, "legend": {"legendX": 86, "legendY": 30, "symbolType": "M-1,0.5H-0.2V-0.5H0.5V0.2", "encode": {"symbols": {"update": {"fill": {"value": "transparent"}}}}}}}},
     {"transform": [{"filter": "datum.k == 'c'"}], "mark": {"type": "point", "shape": "M0,-1V1", "filled": false, "size": 36, "strokeWidth": 1.2, "opacity": 1},
      "encoding": {"x": {"field": "t", "type": "quantitative", "axis": {"title": "Time(month)", "labelOverlap": false, "values": [0,20,40,60,80,100], "labelExpr": "datum.value == 0 ? '.0' : format(datum.value, '.1f')"}}, "y": {"field": "s", "type": "quantitative", "axis": {"title": "Overall Survival", "labelOverlap": false, "values": [0,0.2,0.4,0.6,0.8,1], "format": ".1f"}}, "color": {"field": "g", "type": "nominal", "legend": null}}},
     {"data": {"values": [{"label": "P=0.715"}]}, "mark": {"type": "text", "font": "Liberation Serif", "fontWeight": "bold", "fontSize": 12},
      "encoding": {"x": {"datum": 60.5, "axis": {"title": "Time(month)", "labelOverlap": false, "values": [0,20,40,60,80,100], "labelExpr": "datum.value == 0 ? '.0' : format(datum.value, '.1f')"}}, "y": {"datum": 0.183, "axis": {"title": "Overall Survival", "labelOverlap": false, "values": [0,0.2,0.4,0.6,0.8,1], "format": ".1f"}}, "text": {"field": "label"}}}
    ]},
   {"width": 211, "height": 211, "title": {"text": "I", "orient": "bottom", "anchor": "start", "frame": "group", "dx": -37, "dy": -14, "font": "Liberation Sans", "fontSize": 15, "fontWeight": "normal", "color": "#000"},
    "data": {"name": "I"},
    "layer": [
     {"transform": [{"filter": "datum.k == 's'"}], "mark": {"type": "line", "interpolate": "step-after", "strokeWidth": 1.5},
      "encoding": {"x": {"field": "t", "type": "quantitative", "scale": {"domain": [-5.7, 104], "nice": false, "zero": false}, "axis": {"title": "Time(month)", "labelOverlap": false, "values": [0,20,40,60,80,100], "labelExpr": "datum.value == 0 ? '.0' : format(datum.value, '.1f')"}},
                   "y": {"field": "s", "type": "quantitative", "scale": {"domain": [-0.05, 1.05], "nice": false, "zero": false}, "axis": {"title": "Overall Survival", "labelOverlap": false, "values": [0,0.2,0.4,0.6,0.8,1], "format": ".1f"}},
                   "color": {"field": "g", "type": "nominal", "scale": {"domain": ["c-MYC - and BCL-2 -", "c-MYC + and BCL-2 +"], "range": ["#3563b5", "#e8423f"]}, "legend": {"legendX": 87, "legendY": 34, "symbolType": "M-1,0.5H-0.2V-0.5H0.5V0.2", "encode": {"symbols": {"update": {"fill": {"value": "transparent"}}}}}}}},
     {"transform": [{"filter": "datum.k == 'c'"}], "mark": {"type": "point", "shape": "M0,-1V1", "filled": false, "size": 36, "strokeWidth": 1.2, "opacity": 1},
      "encoding": {"x": {"field": "t", "type": "quantitative", "axis": {"title": "Time(month)", "labelOverlap": false, "values": [0,20,40,60,80,100], "labelExpr": "datum.value == 0 ? '.0' : format(datum.value, '.1f')"}}, "y": {"field": "s", "type": "quantitative", "axis": {"title": "Overall Survival", "labelOverlap": false, "values": [0,0.2,0.4,0.6,0.8,1], "format": ".1f"}}, "color": {"field": "g", "type": "nominal", "legend": null}}},
     {"data": {"values": [{"label": "P=0.297"}]}, "mark": {"type": "text", "font": "Liberation Serif", "fontWeight": "bold", "fontSize": 12.5},
      "encoding": {"x": {"datum": 59.8, "axis": {"title": "Time(month)", "labelOverlap": false, "values": [0,20,40,60,80,100], "labelExpr": "datum.value == 0 ? '.0' : format(datum.value, '.1f')"}}, "y": {"datum": 0.225, "axis": {"title": "Overall Survival", "labelOverlap": false, "values": [0,0.2,0.4,0.6,0.8,1], "format": ".1f"}}, "text": {"field": "label"}}}
    ]}
  ]}
 ]}
]
}
